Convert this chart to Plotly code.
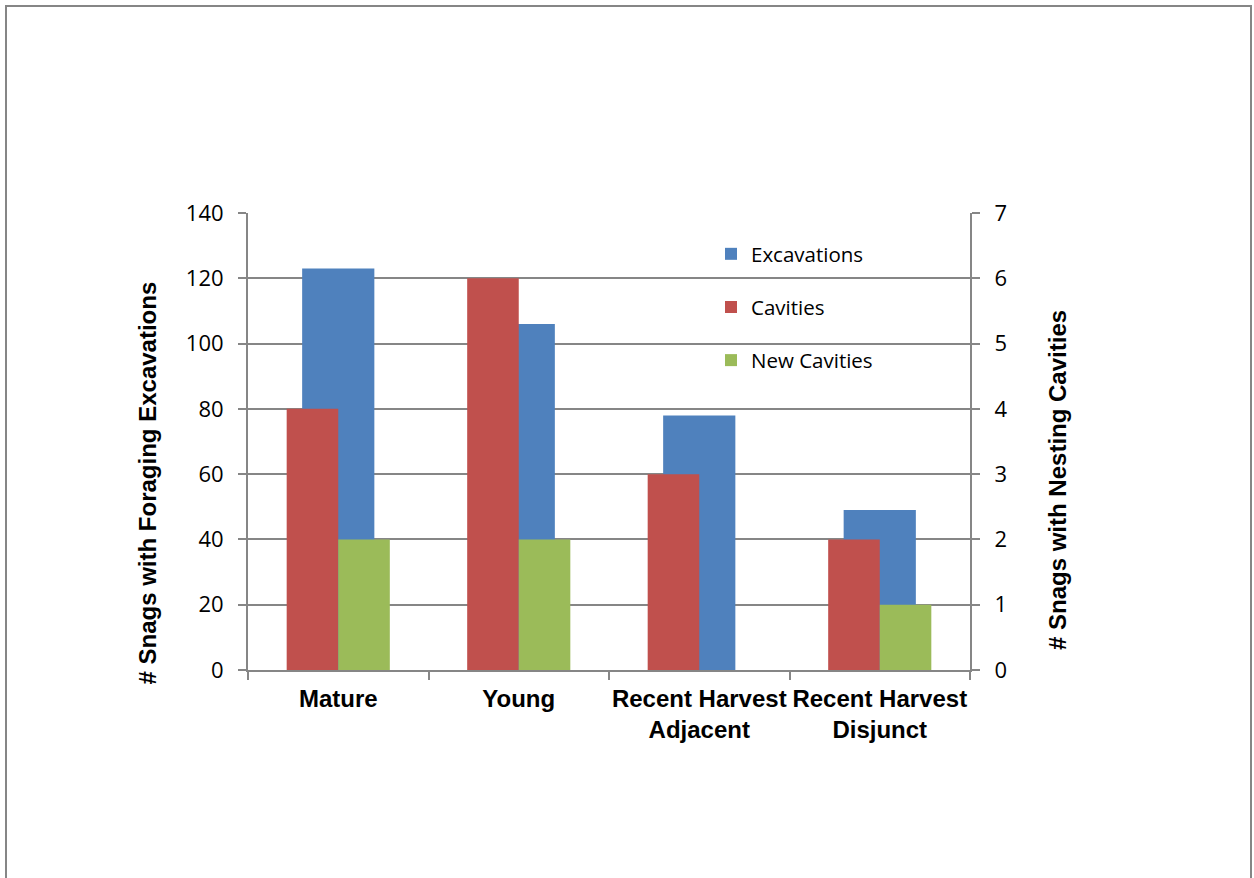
import plotly.graph_objects as go

# Snag survey results by stand type
categories = ["Mature", "Young", "Recent Harvest<br>Adjacent", "Recent Harvest<br>Disjunct"]
excavations = [123, 106, 78, 49]      # primary axis
cavities = [4, 6, 3, 2]               # secondary axis
new_cavities = [2, 2, 0, 1]           # secondary axis

BLUE = "#4F81BD"
RED = "#C0504D"
GREEN = "#9BBB59"
GRAY = "#868686"

W, H = 1254, 878
L, R, T, B = 248, 970, 213, 670  # plot area in pixels

fig = go.Figure()

fig.add_trace(go.Bar(
    x=categories, y=excavations, name="Excavations",
    marker=dict(color=BLUE, line=dict(width=0)),
    width=0.4, offset=-0.2, yaxis="y", legendgroup="a",
))
fig.add_trace(go.Bar(
    x=categories, y=cavities, name="Cavities",
    marker=dict(color=RED, line=dict(width=0)),
    width=0.2857, offset=-0.2857, yaxis="y2", legendgroup="b",
))
fig.add_trace(go.Bar(
    x=categories, y=new_cavities, name="New Cavities",
    marker=dict(color=GREEN, line=dict(width=0)),
    width=0.2857, offset=0.0, yaxis="y2", legendgroup="c",
))

tick_font = dict(family="Open Sans, DejaVu Sans, sans-serif", size=22, color="#000000")
bold_font = dict(family="Liberation Sans, Arial, sans-serif", size=24, color="#000000", weight="bold")

fig.update_layout(
    width=W, height=H,
    margin=dict(l=L, r=W - R, t=T, b=H - B, pad=0),
    paper_bgcolor="white", plot_bgcolor="white",
    barmode="overlay",
    showlegend=True,
    legend=dict(
        x=(711 - L) / (R - L), y=(B - 234) / (B - T),
        xanchor="left", yanchor="top",
        font=dict(family="Open Sans, DejaVu Sans, sans-serif", size=20.5, color="#000000"),
        bgcolor="rgba(0,0,0,0)", tracegroupgap=23.5,
        itemclick=False, itemwidth=30,
    ),
    xaxis=dict(
        type="category", tickson="boundaries",
        showline=True, linecolor=GRAY, linewidth=2,
        ticks="outside", ticklen=8, tickwidth=2, tickcolor=GRAY,
        showgrid=False, zeroline=False, tickangle=0,
        tickfont=bold_font, ticklabelstandoff=6,
        range=[-0.5, 3.5],
    ),
    yaxis=dict(
        range=[0, 140], dtick=20, tick0=0,
        showline=True, linecolor=GRAY, linewidth=2,
        ticks="outside", ticklen=8, tickwidth=2, tickcolor=GRAY,
        showgrid=True, gridcolor=GRAY, gridwidth=2,
        zeroline=False, tickfont=tick_font, ticklabelstandoff=10,
    ),
    yaxis2=dict(
        range=[0, 7], dtick=1, tick0=0,
        overlaying="y", side="right",
        showline=True, linecolor=GRAY, linewidth=2,
        ticks="outside", ticklen=8, tickwidth=2, tickcolor=GRAY,
        showgrid=False, zeroline=False, tickfont=tick_font, ticklabelstandoff=10,
    ),
)

# Axis titles
fig.add_annotation(
    text="# Snags with Foraging Excavations", textangle=-90,
    xref="paper", yref="paper",
    x=(147 - L) / (R - L), y=(B - 483.5) / (B - T),
    showarrow=False, font=bold_font, xanchor="center", yanchor="middle",
)
fig.add_annotation(
    text="# Snags with Nesting Cavities", textangle=-90,
    xref="paper", yref="paper",
    x=(1057 - L) / (R - L), y=(B - 480) / (B - T),
    showarrow=False, font=bold_font, xanchor="center", yanchor="middle",
)

# Chart frame
fig.add_shape(
    type="rect", xref="paper", yref="paper",
    x0=(6 - L) / (R - L), x1=(1251 - L) / (R - L),
    y0=(B - 900) / (B - T), y1=(B - 6) / (B - T),
    line=dict(color=GRAY, width=2), fillcolor="rgba(0,0,0,0)", layer="below",
)

fig.write_html("out.html")
